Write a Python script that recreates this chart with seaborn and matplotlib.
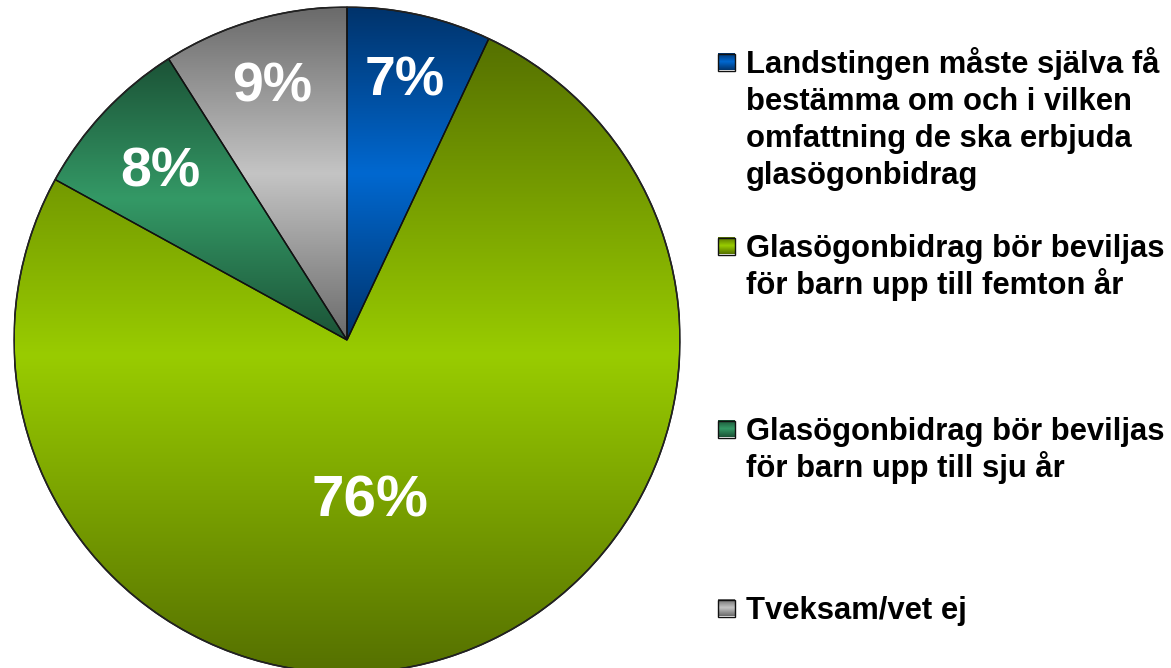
import numpy as np
import matplotlib
matplotlib.use('Agg')
import matplotlib.pyplot as plt
from matplotlib.patches import Rectangle
import seaborn as sns

# Survey answers (share of respondents, %)
labels = [
    'Landstingen måste själva få\nbestämma om och i vilken\nomfattning de ska erbjuda\nglasögonbidrag',
    'Glasögonbidrag bör beviljas\nför barn upp till femton år',
    'Glasögonbidrag bör beviljas\nför barn upp till sju år',
    'Tveksam/vet ej',
]
values = [7, 76, 8, 9]
pct_labels = ['7%', '76%', '8%', '9%']

# dark / light shade per slice (gradient dark -> light -> dark)
dark_colors = ['#00336b', '#557000', '#1b5236', '#6a6a6a']
light_colors = ['#0068d0', '#99cc00', '#349966', '#c4c4c4']

sns.set_theme(style='white')
plt.rcParams['font.family'] = ['Liberation Sans', 'DejaVu Sans']

W, H = 1171, 668
fig = plt.figure(figsize=(W / 100, H / 100), dpi=100)

# pie axes: centre ~(347, 340) px, radius ~333 px
cx, cy, r = 347, 340, 333
ax = fig.add_axes([(cx - r) / W, (H - cy - r) / H, 2 * r / W, 2 * r / H])

wedges, _ = ax.pie(values, startangle=90, counterclock=False, radius=1,
                   wedgeprops=dict(edgecolor='#111111', linewidth=1.0))

grad = np.linspace(0, 1, 256).reshape(-1, 1)
for w, dk, lt in zip(wedges, dark_colors, light_colors):
    cmap = sns.blend_palette([dk, lt, dk], n_colors=256, as_cmap=True)
    bb = w.get_path().get_extents()
    im = ax.imshow(grad, cmap=cmap, aspect='auto', interpolation='bilinear',
                   extent=[bb.x0, bb.x1, bb.y0, bb.y1], origin='lower', zorder=1)
    im.set_clip_path(w)
    w.set_facecolor('none')
    w.set_zorder(2)

# outer rim
ax.add_patch(plt.Circle((0, 0), 1, fill=False, edgecolor='#222222', linewidth=1.2, zorder=3))
ax.set_xlim(-1, 1)
ax.set_ylim(-1, 1)
ax.axis('off')

# percentage label anchors (axes data units, radius = 1)
label_pos = [(0.174, 0.775), (0.069, -0.486), (-0.559, 0.502), (-0.225, 0.757)]
label_size = [40, 42, 40, 40]
for txt, (lx, ly), s in zip(pct_labels, label_pos, label_size):
    ax.text(lx, ly, txt, ha='center', va='center',
            color='white', fontsize=s, fontweight='bold', zorder=4)

# legend drawn in pixel coordinates
lax = fig.add_axes([0, 0, 1, 1])
lax.patch.set_alpha(0)

marker_y = [62, 246, 429, 608]
line_step = 37
for lbl, my, dk, lt in zip(labels, marker_y, dark_colors, light_colors):
    cmap = sns.blend_palette([dk, lt, dk], n_colors=64, as_cmap=True)
    x0, sz = 718, 17
    lax.imshow(grad, cmap=cmap, aspect='auto', extent=[x0, x0 + sz, my + sz / 2, my - sz / 2],
               origin='upper', zorder=1)
    lax.add_patch(Rectangle((x0, my - sz / 2), sz, sz, fill=False, edgecolor='#111111',
                            linewidth=1, zorder=2))
    for i, line in enumerate(lbl.split('\n')):
        lax.text(746, my + 11 + i * line_step, line, ha='left', va='baseline',
                 fontsize=22.3, fontweight='bold', color='black')
lax.set_xlim(0, W)
lax.set_ylim(H, 0)
lax.axis('off')

fig.savefig('out.png', dpi=100, facecolor='white')
